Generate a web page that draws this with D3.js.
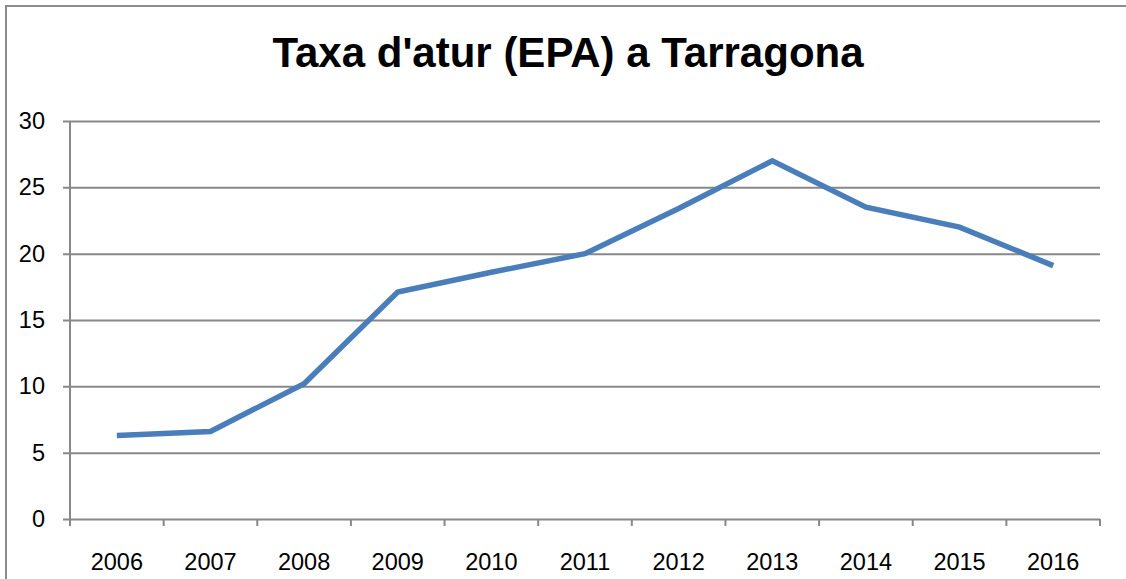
<!DOCTYPE html>
<html>
<head>
<meta charset="utf-8">
<script src="https://cdn.jsdelivr.net/npm/d3@7"></script>
<style>
  body { margin: 0; background: #fff; }
  text { font-family: "Liberation Sans", Arial, sans-serif; fill: #000; }
</style>
</head>
<body>
<svg></svg>
<script>
let years = ['2006','2007','2008','2009','2010','2011','2012','2013','2014','2015','2016'];
let rates = [6.3, 6.6, 10.2, 17.1, 18.6, 20.0, 23.4, 27.0, 23.5, 22.0, 19.1];
let yTicks = [0, 5, 10, 15, 20, 25, 30];
let title = "Taxa d'atur (EPA) a Tarragona";

let svgWidth = 1126, svgHeight = 579;
let plotLeft = 70, plotRight = 1100, plotTop = 121, plotBottom = 519;

let svg = d3.select('svg')
            .attr('width', svgWidth)
            .attr('height', svgHeight);

// outer chart border
svg.append('path')
   .attr('d', 'M6,' + svgHeight + 'V6H' + svgWidth)
   .attr('fill', 'none')
   .attr('stroke', '#8c8c8c')
   .attr('stroke-width', 2);

svg.append('text')
   .attr('x', 568)
   .attr('y', 67)
   .attr('text-anchor', 'middle')
   .style('font-size', '42px')
   .style('font-weight', 'bold')
   .text(title);

let x = d3.scaleBand().domain(years).range([plotLeft, plotRight]);
let y = d3.scaleLinear().domain([0, 30]).range([plotBottom, plotTop]);

// gridlines
let grid = svg.append('g')
   .attr('transform', 'translate(' + (plotLeft - 7) + ',0)')
   .call(d3.axisLeft(y).tickValues(yTicks).tickSize(-(plotRight - plotLeft + 7)).tickFormat(''));
grid.select('.domain').remove();
grid.selectAll('line').attr('stroke', '#888').attr('stroke-width', 2);

// y labels
let yAxis = svg.append('g')
   .attr('transform', 'translate(' + plotLeft + ',0)')
   .call(d3.axisLeft(y).tickValues(yTicks).tickSize(0).tickPadding(25));
yAxis.select('.domain').remove();
yAxis.selectAll('text').style('font-size', '23.5px');

// y axis line
svg.append('line')
   .attr('x1', plotLeft).attr('x2', plotLeft)
   .attr('y1', y(30)).attr('y2', y(0) + 7)
   .attr('stroke', '#888').attr('stroke-width', 2);

// x tick marks at category boundaries
let bounds = years.map(d => x(d)).concat([plotRight]);
svg.append('g').selectAll('line')
   .data(bounds)
   .enter()
   .append('line')
   .attr('x1', d => d).attr('x2', d => d)
   .attr('y1', y(0)).attr('y2', y(0) + 7)
   .attr('stroke', '#888').attr('stroke-width', 2);

// x labels
let xAxis = svg.append('g')
   .attr('transform', 'translate(0,' + y(0) + ')')
   .call(d3.axisBottom(x).tickSize(0).tickPadding(34));
xAxis.select('.domain').remove();
xAxis.selectAll('text').style('font-size', '23.5px');

let line = d3.line()
   .x((d, i) => x(years[i]) + x.bandwidth() / 2)
   .y(d => y(d));

svg.append('path')
   .datum(rates)
   .attr('d', line)
   .attr('fill', 'none')
   .attr('stroke', '#4a7ebb')
   .attr('stroke-width', 5.5);
</script>
</body>
</html>
